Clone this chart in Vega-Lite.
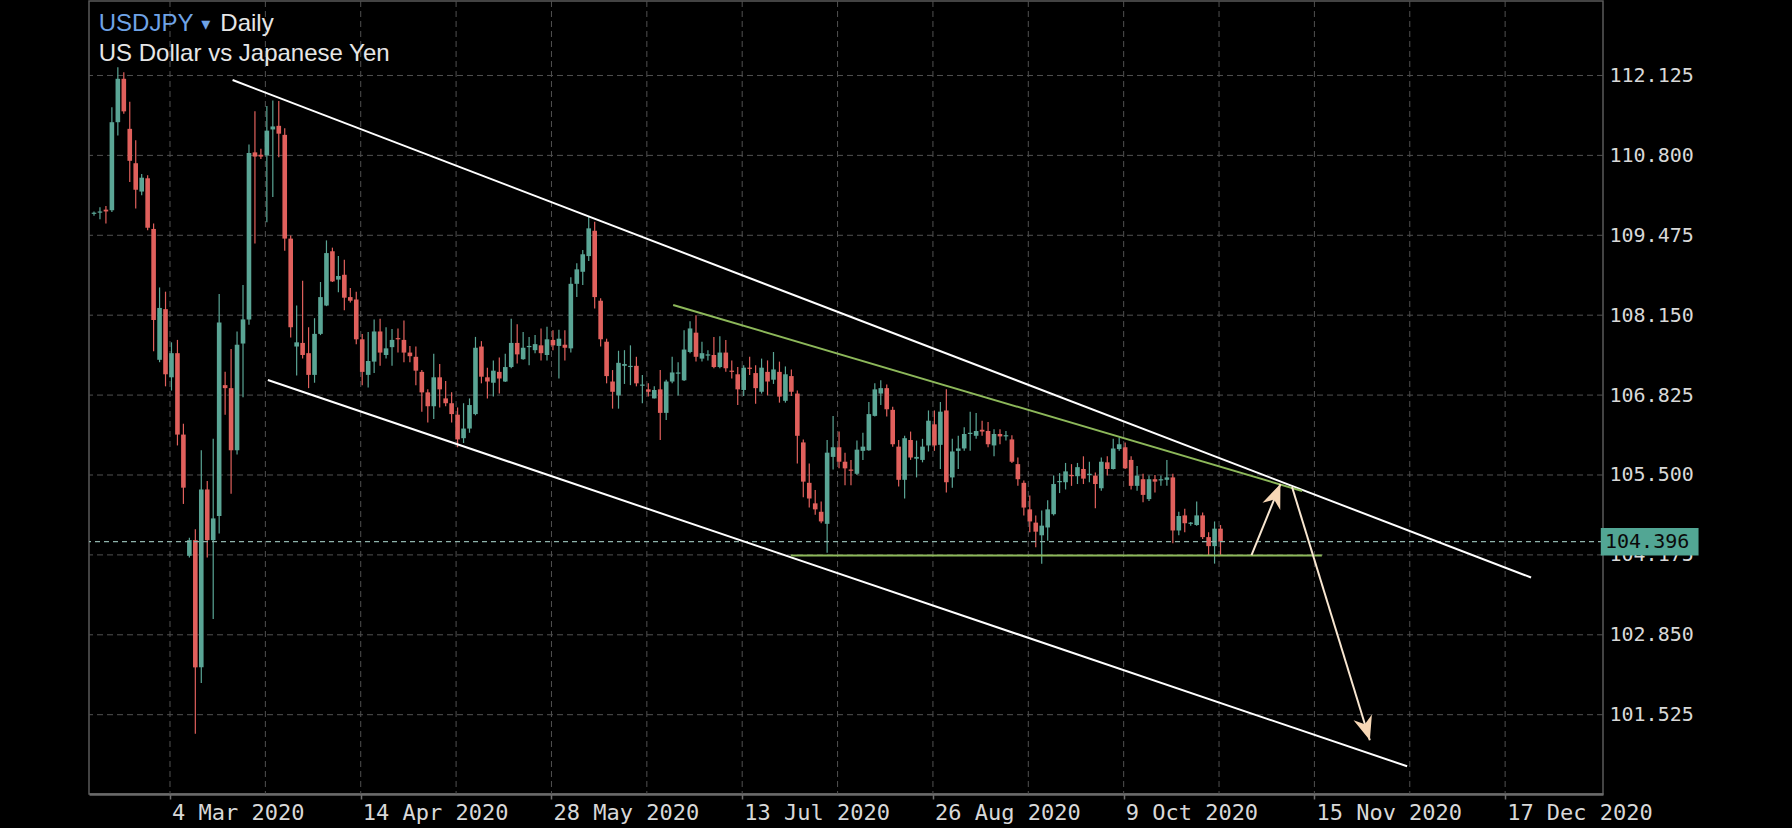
{
  "$schema": "https://vega.github.io/schema/vega-lite/v6.json",
  "width": 1514,
  "height": 793,
  "autosize": {"type": "none"},
  "padding": {"left": 89, "top": 1, "right": 189, "bottom": 34},
  "background": "#000000",
  "config": {
    "view": {"stroke": "#5a5a5a", "strokeWidth": 1.5}
  },
  "datasets": {
    "candles": [
      {"i":0,"o":109.83,"h":109.87,"l":109.80,"c":109.85},
      {"i":1,"o":109.85,"h":109.94,"l":109.74,"c":109.87},
      {"i":2,"o":109.90,"h":109.96,"l":109.67,"c":109.87},
      {"i":3,"o":109.89,"h":111.60,"l":109.86,"c":111.35},
      {"i":4,"o":111.35,"h":112.26,"l":111.13,"c":112.07},
      {"i":5,"o":112.07,"h":112.18,"l":111.49,"c":111.53},
      {"i":6,"o":111.24,"h":111.69,"l":110.36,"c":110.71},
      {"i":7,"o":110.67,"h":111.05,"l":109.92,"c":110.23},
      {"i":8,"o":110.20,"h":110.49,"l":110.14,"c":110.43},
      {"i":9,"o":110.42,"h":110.47,"l":109.56,"c":109.60},
      {"i":10,"o":109.58,"h":109.67,"l":107.55,"c":108.07},
      {"i":11,"o":107.41,"h":108.61,"l":107.37,"c":108.27},
      {"i":12,"o":108.25,"h":108.54,"l":106.97,"c":107.17},
      {"i":13,"o":107.12,"h":107.70,"l":106.90,"c":107.52},
      {"i":14,"o":107.52,"h":107.74,"l":105.99,"c":106.17},
      {"i":15,"o":106.17,"h":106.35,"l":105.02,"c":105.29},
      {"i":16,"o":104.16,"h":104.46,"l":104.13,"c":104.42},
      {"i":17,"o":104.42,"h":104.60,"l":101.21,"c":102.31},
      {"i":18,"o":102.31,"h":105.91,"l":102.05,"c":105.26},
      {"i":19,"o":105.26,"h":105.40,"l":104.13,"c":104.42},
      {"i":20,"o":104.42,"h":106.10,"l":103.11,"c":104.78},
      {"i":21,"o":104.82,"h":108.50,"l":104.53,"c":108.03},
      {"i":22,"o":106.99,"h":107.21,"l":106.50,"c":106.94},
      {"i":23,"o":106.94,"h":107.59,"l":105.19,"c":105.91},
      {"i":24,"o":105.91,"h":107.88,"l":105.84,"c":107.66},
      {"i":25,"o":107.68,"h":108.65,"l":106.79,"c":108.08},
      {"i":26,"o":108.08,"h":110.98,"l":107.99,"c":110.84},
      {"i":27,"o":110.85,"h":111.53,"l":109.34,"c":110.78},
      {"i":28,"o":110.81,"h":110.91,"l":110.74,"c":110.78},
      {"i":29,"o":110.80,"h":111.62,"l":109.69,"c":111.21},
      {"i":30,"o":111.23,"h":111.71,"l":110.11,"c":111.28},
      {"i":31,"o":111.29,"h":111.70,"l":110.77,"c":111.16},
      {"i":32,"o":111.14,"h":111.25,"l":109.22,"c":109.42},
      {"i":33,"o":109.42,"h":109.47,"l":107.78,"c":107.95},
      {"i":34,"o":107.63,"h":108.31,"l":107.15,"c":107.70},
      {"i":35,"o":107.69,"h":108.72,"l":107.43,"c":107.49},
      {"i":36,"o":107.52,"h":107.95,"l":106.94,"c":107.16},
      {"i":37,"o":107.16,"h":108.10,"l":107.03,"c":107.84},
      {"i":38,"o":107.84,"h":108.70,"l":107.82,"c":108.45},
      {"i":39,"o":108.31,"h":109.39,"l":108.30,"c":109.18},
      {"i":40,"o":109.21,"h":109.27,"l":108.70,"c":108.71},
      {"i":41,"o":108.74,"h":109.13,"l":108.53,"c":108.80},
      {"i":42,"o":108.82,"h":109.07,"l":108.23,"c":108.44},
      {"i":43,"o":108.45,"h":108.60,"l":108.36,"c":108.39},
      {"i":44,"o":108.41,"h":108.54,"l":107.67,"c":107.75},
      {"i":45,"o":107.75,"h":107.84,"l":106.99,"c":107.21},
      {"i":46,"o":107.16,"h":107.87,"l":106.95,"c":107.39},
      {"i":47,"o":107.38,"h":108.08,"l":107.19,"c":107.88},
      {"i":48,"o":107.88,"h":108.09,"l":107.31,"c":107.53},
      {"i":49,"o":107.49,"h":107.95,"l":107.43,"c":107.60},
      {"i":50,"o":107.62,"h":107.92,"l":107.31,"c":107.74},
      {"i":51,"o":107.77,"h":107.93,"l":107.53,"c":107.75},
      {"i":52,"o":107.74,"h":108.06,"l":107.37,"c":107.53},
      {"i":53,"o":107.53,"h":107.64,"l":107.37,"c":107.47},
      {"i":54,"o":107.46,"h":107.63,"l":106.99,"c":107.23},
      {"i":55,"o":107.21,"h":107.24,"l":106.55,"c":106.87},
      {"i":56,"o":106.87,"h":106.92,"l":106.37,"c":106.64},
      {"i":57,"o":106.64,"h":107.51,"l":106.43,"c":107.12},
      {"i":58,"o":107.12,"h":107.34,"l":106.62,"c":106.92},
      {"i":59,"o":106.77,"h":107.06,"l":106.64,"c":106.69},
      {"i":60,"o":106.69,"h":106.87,"l":106.37,"c":106.51},
      {"i":61,"o":106.50,"h":106.62,"l":105.96,"c":106.09},
      {"i":62,"o":106.11,"h":106.69,"l":106.03,"c":106.27},
      {"i":63,"o":106.27,"h":106.77,"l":106.20,"c":106.66},
      {"i":64,"o":106.51,"h":107.79,"l":106.49,"c":107.61},
      {"i":65,"o":107.63,"h":107.72,"l":107.02,"c":107.13},
      {"i":66,"o":107.12,"h":107.28,"l":106.77,"c":107.05},
      {"i":67,"o":107.03,"h":107.40,"l":106.80,"c":107.23},
      {"i":68,"o":107.21,"h":107.45,"l":106.85,"c":107.10},
      {"i":69,"o":107.05,"h":107.51,"l":107.04,"c":107.29},
      {"i":70,"o":107.29,"h":108.09,"l":107.27,"c":107.69},
      {"i":71,"o":107.69,"h":108.00,"l":107.35,"c":107.50},
      {"i":72,"o":107.42,"h":107.87,"l":107.41,"c":107.61},
      {"i":73,"o":107.62,"h":107.79,"l":107.32,"c":107.64},
      {"i":74,"o":107.57,"h":107.82,"l":107.52,"c":107.67},
      {"i":75,"o":107.65,"h":107.93,"l":107.40,"c":107.52},
      {"i":76,"o":107.49,"h":107.96,"l":107.40,"c":107.75},
      {"i":77,"o":107.74,"h":107.90,"l":107.57,"c":107.65},
      {"i":78,"o":107.64,"h":107.91,"l":107.10,"c":107.76},
      {"i":79,"o":107.66,"h":107.90,"l":107.40,"c":107.61},
      {"i":80,"o":107.60,"h":108.78,"l":107.53,"c":108.67},
      {"i":81,"o":108.67,"h":109.01,"l":108.45,"c":108.91},
      {"i":82,"o":108.87,"h":109.23,"l":108.65,"c":109.16},
      {"i":83,"o":109.13,"h":109.78,"l":109.05,"c":109.59},
      {"i":84,"o":109.55,"h":109.70,"l":108.26,"c":108.45},
      {"i":85,"o":108.39,"h":108.43,"l":107.63,"c":107.75},
      {"i":86,"o":107.71,"h":107.76,"l":107.02,"c":107.14},
      {"i":87,"o":107.05,"h":107.24,"l":106.60,"c":106.88},
      {"i":88,"o":106.82,"h":107.56,"l":106.60,"c":107.36},
      {"i":89,"o":107.31,"h":107.57,"l":107.01,"c":107.34},
      {"i":90,"o":107.29,"h":107.65,"l":106.99,"c":107.31},
      {"i":91,"o":107.31,"h":107.46,"l":106.97,"c":107.02},
      {"i":92,"o":106.98,"h":107.16,"l":106.69,"c":107.00},
      {"i":93,"o":106.92,"h":107.02,"l":106.80,"c":106.88},
      {"i":94,"o":106.77,"h":106.97,"l":106.77,"c":106.91},
      {"i":95,"o":106.92,"h":107.24,"l":106.08,"c":106.53},
      {"i":96,"o":106.53,"h":107.08,"l":106.41,"c":107.05},
      {"i":97,"o":107.05,"h":107.46,"l":107.02,"c":107.20},
      {"i":98,"o":107.18,"h":107.37,"l":106.82,"c":107.20},
      {"i":99,"o":107.07,"h":107.90,"l":107.06,"c":107.58},
      {"i":100,"o":107.54,"h":108.05,"l":107.52,"c":107.93},
      {"i":101,"o":107.86,"h":108.15,"l":107.38,"c":107.46},
      {"i":102,"o":107.43,"h":107.71,"l":107.38,"c":107.52},
      {"i":103,"o":107.48,"h":107.57,"l":107.40,"c":107.50},
      {"i":104,"o":107.49,"h":107.79,"l":107.27,"c":107.29},
      {"i":105,"o":107.29,"h":107.80,"l":107.27,"c":107.53},
      {"i":106,"o":107.53,"h":107.74,"l":107.21,"c":107.27},
      {"i":107,"o":107.23,"h":107.40,"l":107.10,"c":107.21},
      {"i":108,"o":107.17,"h":107.29,"l":106.66,"c":106.92},
      {"i":109,"o":106.91,"h":107.32,"l":106.81,"c":107.28},
      {"i":110,"o":107.28,"h":107.46,"l":107.16,"c":107.26},
      {"i":111,"o":107.19,"h":107.32,"l":106.68,"c":106.94},
      {"i":112,"o":106.88,"h":107.43,"l":106.85,"c":107.28},
      {"i":113,"o":107.21,"h":107.40,"l":106.82,"c":107.05},
      {"i":114,"o":107.08,"h":107.54,"l":107.01,"c":107.25},
      {"i":115,"o":107.21,"h":107.38,"l":106.70,"c":106.80},
      {"i":116,"o":106.73,"h":107.30,"l":106.70,"c":107.17},
      {"i":117,"o":107.14,"h":107.25,"l":106.81,"c":106.88},
      {"i":118,"o":106.85,"h":106.90,"l":105.69,"c":106.15},
      {"i":119,"o":106.04,"h":106.09,"l":105.13,"c":105.39},
      {"i":120,"o":105.37,"h":105.69,"l":104.96,"c":105.11},
      {"i":121,"o":105.03,"h":105.25,"l":104.84,"c":104.93},
      {"i":122,"o":104.89,"h":105.06,"l":104.70,"c":104.73},
      {"i":123,"o":104.69,"h":106.08,"l":104.21,"c":105.87},
      {"i":124,"o":105.80,"h":106.48,"l":105.59,"c":105.96},
      {"i":125,"o":105.96,"h":106.22,"l":105.61,"c":105.72},
      {"i":126,"o":105.72,"h":105.87,"l":105.33,"c":105.61},
      {"i":127,"o":105.59,"h":105.75,"l":105.33,"c":105.57},
      {"i":128,"o":105.52,"h":106.07,"l":105.50,"c":105.92},
      {"i":129,"o":105.90,"h":106.20,"l":105.75,"c":105.97},
      {"i":130,"o":105.91,"h":106.71,"l":105.90,"c":106.51},
      {"i":131,"o":106.48,"h":107.02,"l":106.47,"c":106.92},
      {"i":132,"o":106.85,"h":107.07,"l":106.66,"c":106.94},
      {"i":133,"o":106.94,"h":107.00,"l":106.47,"c":106.59},
      {"i":134,"o":106.58,"h":106.63,"l":105.97,"c":106.01},
      {"i":135,"o":105.97,"h":106.08,"l":105.31,"c":105.42},
      {"i":136,"o":105.42,"h":106.15,"l":105.11,"c":106.11},
      {"i":137,"o":106.08,"h":106.22,"l":105.75,"c":105.79},
      {"i":138,"o":105.77,"h":106.07,"l":105.46,"c":105.80},
      {"i":139,"o":105.75,"h":106.10,"l":105.71,"c":105.97},
      {"i":140,"o":105.99,"h":106.57,"l":105.89,"c":106.40},
      {"i":141,"o":106.34,"h":106.57,"l":105.90,"c":105.99},
      {"i":142,"o":106.00,"h":106.71,"l":105.60,"c":106.55},
      {"i":143,"o":106.57,"h":106.92,"l":105.21,"c":105.38},
      {"i":144,"o":105.46,"h":106.10,"l":105.29,"c":105.89},
      {"i":145,"o":105.90,"h":106.15,"l":105.60,"c":105.94},
      {"i":146,"o":105.94,"h":106.29,"l":105.90,"c":106.18},
      {"i":147,"o":106.18,"h":106.55,"l":105.90,"c":106.20},
      {"i":148,"o":106.15,"h":106.53,"l":106.10,"c":106.23},
      {"i":149,"o":106.25,"h":106.40,"l":106.15,"c":106.22},
      {"i":150,"o":106.23,"h":106.38,"l":105.96,"c":106.01},
      {"i":151,"o":105.99,"h":106.26,"l":105.81,"c":106.18},
      {"i":152,"o":106.18,"h":106.26,"l":106.01,"c":106.14},
      {"i":153,"o":106.14,"h":106.23,"l":106.07,"c":106.16},
      {"i":154,"o":106.09,"h":106.16,"l":105.70,"c":105.72},
      {"i":155,"o":105.68,"h":105.79,"l":105.32,"c":105.43},
      {"i":156,"o":105.37,"h":105.41,"l":104.83,"c":104.96},
      {"i":157,"o":104.93,"h":105.16,"l":104.55,"c":104.73},
      {"i":158,"o":104.71,"h":104.83,"l":104.30,"c":104.56},
      {"i":159,"o":104.50,"h":104.91,"l":104.03,"c":104.66},
      {"i":160,"o":104.63,"h":105.08,"l":104.41,"c":104.93},
      {"i":161,"o":104.85,"h":105.49,"l":104.83,"c":105.35},
      {"i":162,"o":105.38,"h":105.53,"l":105.20,"c":105.40},
      {"i":163,"o":105.38,"h":105.70,"l":105.26,"c":105.56},
      {"i":164,"o":105.50,"h":105.68,"l":105.32,"c":105.48},
      {"i":165,"o":105.48,"h":105.70,"l":105.35,"c":105.63},
      {"i":166,"o":105.60,"h":105.81,"l":105.35,"c":105.44},
      {"i":167,"o":105.50,"h":105.72,"l":105.38,"c":105.52},
      {"i":168,"o":105.49,"h":105.54,"l":104.95,"c":105.35},
      {"i":169,"o":105.28,"h":105.79,"l":105.24,"c":105.72},
      {"i":170,"o":105.71,"h":105.81,"l":105.49,"c":105.60},
      {"i":171,"o":105.60,"h":106.10,"l":105.59,"c":105.94},
      {"i":172,"o":105.93,"h":106.12,"l":105.90,"c":106.01},
      {"i":173,"o":105.96,"h":106.04,"l":105.60,"c":105.61},
      {"i":174,"o":105.75,"h":105.81,"l":105.26,"c":105.32},
      {"i":175,"o":105.32,"h":105.65,"l":105.24,"c":105.49},
      {"i":176,"o":105.43,"h":105.52,"l":105.05,"c":105.17},
      {"i":177,"o":105.10,"h":105.49,"l":105.07,"c":105.43},
      {"i":178,"o":105.43,"h":105.50,"l":105.21,"c":105.39},
      {"i":179,"o":105.41,"h":105.49,"l":105.32,"c":105.43},
      {"i":180,"o":105.42,"h":105.75,"l":105.32,"c":105.46},
      {"i":181,"o":105.46,"h":105.52,"l":104.37,"c":104.58},
      {"i":182,"o":104.58,"h":104.89,"l":104.50,"c":104.82},
      {"i":183,"o":104.83,"h":104.94,"l":104.55,"c":104.70},
      {"i":184,"o":104.69,"h":104.72,"l":104.66,"c":104.71},
      {"i":185,"o":104.67,"h":105.06,"l":104.66,"c":104.83},
      {"i":186,"o":104.83,"h":104.88,"l":104.44,"c":104.47},
      {"i":187,"o":104.47,"h":104.55,"l":104.16,"c":104.32},
      {"i":188,"o":104.32,"h":104.73,"l":104.03,"c":104.61},
      {"i":189,"o":104.61,"h":104.67,"l":104.16,"c":104.396}
    ],
    "lines": [
      {"id":"up","kind":"white","i":23.25,"p":112.05},
      {"id":"up","kind":"white","i":241.1,"p":103.80},
      {"id":"lo","kind":"white","i":29.17,"p":107.075},
      {"id":"lo","kind":"white","i":220.3,"p":100.67},
      {"id":"gs","kind":"green","i":97.17,"p":108.32},
      {"id":"gs","kind":"green","i":202.7,"p":105.235},
      {"id":"gf","kind":"green","i":116.9,"p":104.165},
      {"id":"gf","kind":"green","i":206.0,"p":104.165}
    ],
    "arrows": [
      {"arrow":"a1","end":"start","i":194.2,"p":104.17},
      {"arrow":"a1","end":"tip","i":199.05,"p":105.35},
      {"arrow":"a2","end":"start","i":201.0,"p":105.30},
      {"arrow":"a2","end":"tip","i":214.05,"p":101.10}
    ],
    "ticksx": [
      {"v":12.75,"lab":"4 Mar 2020"},{"v":28.75,"lab":""},
      {"v":44.75,"lab":"14 Apr 2020"},{"v":60.75,"lab":""},
      {"v":76.75,"lab":"28 May 2020"},{"v":92.75,"lab":""},
      {"v":108.75,"lab":"13 Jul 2020"},{"v":124.75,"lab":""},
      {"v":140.75,"lab":"26 Aug 2020"},{"v":156.75,"lab":""},
      {"v":172.75,"lab":"9 Oct 2020"},{"v":188.75,"lab":""},
      {"v":204.75,"lab":"15 Nov 2020"},{"v":220.75,"lab":""},
      {"v":236.75,"lab":"17 Dec 2020"}
    ],
    "ticksy": [
      {"v":101.525},{"v":102.85},{"v":104.175},{"v":105.5},{"v":106.825},
      {"v":108.15},{"v":109.475},{"v":110.8},{"v":112.125}
    ],
    "last": [{"price":104.396,"box_lo":104.167,"box_hi":104.621,"x0":252.8,"x1":269.2,"tx":253.5}],
    "titles": [
      {"t":"USDJPY","x":0.8,"y":112.865,"role":"sym"},
      {"t":"Daily","x":21.2,"y":112.865,"role":"txt"},
      {"t":"US Dollar vs Japanese Yen","x":0.8,"y":112.372,"role":"txt"}
    ],
    "caret": [{"t":"▾","x":18.0,"y":112.88}]
  },
  "layer": [
    {
      "data": {"name": "ticksy"},
      "mark": {"type": "rule", "color": "#505050", "strokeDash": [6, 4], "strokeWidth": 1},
      "encoding": {
        "y": {
          "field": "v", "type": "quantitative",
          "scale": {"domain": [100.21, 113.36], "nice": false, "zero": false},
          "axis": {
            "orient": "right", "title": null,
            "values": [101.525, 102.85, 104.175, 105.5, 106.825, 108.15, 109.475, 110.8, 112.125],
            "format": ".3f",
            "labelFont": "DejaVu Sans Mono", "labelFontSize": 20, "labelColor": "#d8d8d8",
            "labelPadding": 6, "labelBaseline": "middle",
            "ticks": false, "domain": false, "grid": false
          }
        }
      }
    },
    {
      "data": {"name": "ticksx"},
      "mark": {"type": "rule", "color": "#505050", "strokeDash": [6, 4], "strokeWidth": 1},
      "encoding": {
        "x": {
          "field": "v", "type": "quantitative",
          "scale": {"domain": [0, 252.33], "nice": false, "zero": false},
          "axis": {
            "orient": "bottom", "title": null,
            "values": [12.75, 44.75, 76.75, 108.75, 140.75, 172.75, 204.75, 236.75],
            "labels": false, "grid": false,
            "ticks": true, "tickSize": 5, "tickColor": "#707070", "tickWidth": 1.5,
            "domain": true, "domainColor": "#6a6a6a", "domainWidth": 2.5
          }
        }
      }
    },
    {
      "data": {"name": "ticksx"},
      "mark": {"type": "text", "font": "DejaVu Sans Mono", "fontSize": 22, "color": "#d8d8d8", "align": "left", "baseline": "top", "dx": 2, "dy": 9},
      "encoding": {
        "x": {"field": "v", "type": "quantitative"},
        "y": {"datum": 100.21, "type": "quantitative"},
        "text": {"field": "lab"}
      }
    },
    {
      "data": {"name": "candles"},
      "mark": {"type": "rule", "clip": true, "strokeWidth": 1.2},
      "encoding": {
        "x": {"field": "i", "type": "quantitative"},
        "y": {"field": "l", "type": "quantitative"},
        "y2": {"field": "h"},
        "color": {"condition": {"test": "datum.c >= datum.o", "value": "#5aa595"}, "value": "#e0605c"}
      }
    },
    {
      "data": {"name": "candles"},
      "mark": {"type": "bar", "clip": true, "width": 4.6},
      "encoding": {
        "x": {"field": "i", "type": "quantitative"},
        "y": {"field": "o", "type": "quantitative"},
        "y2": {"field": "c"},
        "color": {"condition": {"test": "datum.c >= datum.o", "value": "#5aa595"}, "value": "#e0605c"}
      }
    },
    {
      "data": {"name": "last"},
      "mark": {"type": "rule", "color": "#8fb3ab", "strokeDash": [5, 4], "strokeWidth": 1.3},
      "encoding": {"y": {"field": "price", "type": "quantitative"}}
    },
    {
      "data": {"name": "lines"},
      "mark": {"type": "line", "strokeWidth": 2, "clip": true},
      "encoding": {
        "x": {"field": "i", "type": "quantitative"},
        "y": {"field": "p", "type": "quantitative"},
        "detail": {"field": "id"},
        "color": {"field": "kind", "type": "nominal", "scale": {"domain": ["white", "green"], "range": ["#ffffff", "#8db85a"]}, "legend": null}
      }
    },
    {
      "data": {"name": "arrows"},
      "mark": {"type": "line", "strokeWidth": 2, "color": "#f8e6d0"},
      "encoding": {
        "x": {"field": "i", "type": "quantitative"},
        "y": {"field": "p", "type": "quantitative"},
        "detail": {"field": "arrow"}
      }
    },
    {
      "data": {"name": "arrows"},
      "transform": [{"filter": "datum.arrow == 'a1' && datum.end == 'tip'"}],
      "mark": {"type": "point", "filled": true, "color": "#f7d7b5", "opacity": 1, "size": 576, "angle": 22.2, "shape": "M0,0 L0.8,2 L0,1.4 L-0.8,2 Z"},
      "encoding": {
        "x": {"field": "i", "type": "quantitative"},
        "y": {"field": "p", "type": "quantitative"}
      }
    },
    {
      "data": {"name": "arrows"},
      "transform": [{"filter": "datum.arrow == 'a2' && datum.end == 'tip'"}],
      "mark": {"type": "point", "filled": true, "color": "#f7d7b5", "opacity": 1, "size": 576, "angle": 162.8, "shape": "M0,0 L0.8,2 L0,1.4 L-0.8,2 Z"},
      "encoding": {
        "x": {"field": "i", "type": "quantitative"},
        "y": {"field": "p", "type": "quantitative"}
      }
    },
    {
      "data": {"name": "last"},
      "mark": {"type": "rect", "color": "#52a694"},
      "encoding": {
        "x": {"field": "x0", "type": "quantitative"},
        "x2": {"field": "x1"},
        "y": {"field": "box_lo", "type": "quantitative"},
        "y2": {"field": "box_hi"}
      }
    },
    {
      "data": {"name": "last"},
      "mark": {"type": "text", "font": "DejaVu Sans Mono", "fontSize": 20, "color": "#0a0a0a", "align": "left", "baseline": "middle"},
      "encoding": {
        "x": {"field": "tx", "type": "quantitative"},
        "y": {"field": "price", "type": "quantitative"},
        "text": {"field": "price", "format": ".3f"}
      }
    },
    {
      "data": {"name": "titles"},
      "mark": {"type": "text", "font": "Liberation Sans", "fontSize": 24, "align": "left", "baseline": "alphabetic"},
      "encoding": {
        "x": {"field": "x", "type": "quantitative"},
        "y": {"field": "y", "type": "quantitative"},
        "text": {"field": "t"},
        "color": {"field": "role", "type": "nominal", "scale": {"domain": ["sym", "txt"], "range": ["#6fa3e6", "#e6e6e6"]}, "legend": null}
      }
    },
    {
      "data": {"name": "caret"},
      "mark": {"type": "text", "font": "DejaVu Sans", "fontSize": 18, "color": "#6fa3e6", "align": "left", "baseline": "alphabetic"},
      "encoding": {
        "x": {"field": "x", "type": "quantitative"},
        "y": {"field": "y", "type": "quantitative"},
        "text": {"field": "t"}
      }
    }
  ],
  "resolve": {"scale": {"color": "independent"}}
}
